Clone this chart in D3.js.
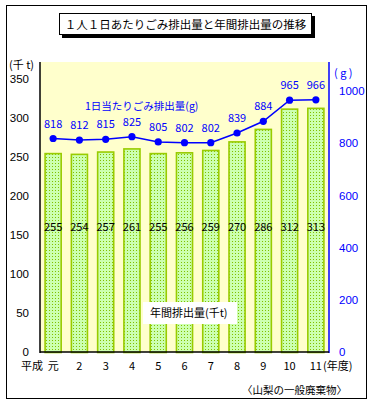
<!DOCTYPE html>
<html><head><meta charset="utf-8">
<script src="https://cdn.jsdelivr.net/npm/d3@7"></script>
<style>body{margin:0;background:#fff;} svg{display:block;font-family:"Noto Sans CJK JP","Noto Sans",sans-serif;}</style>
</head><body>
<svg id="c" width="375" height="406"></svg>
<script>
const years = ["元","2","3","4","5","6","7","8","9","10","11"];
const annual = [255,254,257,261,255,256,259,270,286,312,313];
const perCapita = [818,812,815,825,805,802,802,839,884,965,966];
const leftTicks = [0,50,100,150,200,250,300,350];
const rightTicks = [0,200,400,600,800,1000];

const svg = d3.select("#c");
const L = 40, R = 329, B = 352, T = 62;

// outer frame
svg.append("rect").attr("x",6.5).attr("y",5.5).attr("width",360).attr("height",393)
  .attr("fill","#fff").attr("stroke","#000").attr("stroke-width",1);

// pattern
const defs = svg.append("defs");
const pat = defs.append("pattern").attr("id","dots").attr("patternUnits","userSpaceOnUse")
  .attr("width",3).attr("height",3);
pat.append("rect").attr("width",3).attr("height",3).attr("fill","#CCFFB0");
pat.append("rect").attr("x",1).attr("y",1).attr("width",1).attr("height",1).attr("fill","#80C000");

// plot bg
svg.append("rect").attr("x",L).attr("y",T).attr("width",R-L).attr("height",B-T).attr("fill","#FFFFCC");

const x = d3.scaleBand().domain(years).range([L,R]).paddingInner(0.35).paddingOuter(0.175);
const yL = d3.scaleLinear().domain([0,350]).range([B,79]);
const yR = d3.scaleLinear().domain([0,1000]).range([B,91]);

// bars
svg.append("g").selectAll("rect").data(annual).join("rect")
  .attr("x",(d,i)=>x(years[i])+0.5).attr("y",d=>yL(d)+0.5)
  .attr("width",x.bandwidth()-1).attr("height",d=>B-yL(d))
  .attr("fill","url(#dots)").attr("stroke","#99CC00").attr("stroke-width",1.6);

// bar labels
svg.append("g").selectAll("text").data(annual).join("text")
  .attr("x",(d,i)=>x(years[i])+x.bandwidth()/2).attr("y",231)
  .attr("text-anchor","middle").attr("font-size",11).attr("fill","#000").text(d=>d);

// axes
const axL = svg.append("g").attr("transform",`translate(${L},0)`)
  .call(d3.axisLeft(yL).tickValues(leftTicks).tickFormat(d3.format("d")).tickSize(0).tickPadding(11));
axL.select(".domain").remove();
axL.selectAll("text").attr("font-size",11.5).attr("fill","#000").attr("font-family","inherit");
const axR = svg.append("g").attr("transform",`translate(${R},0)`)
  .call(d3.axisRight(yR).tickValues(rightTicks).tickFormat(d3.format("d")).tickSize(0).tickPadding(10));
axR.select(".domain").remove();
axR.selectAll("text").attr("font-size",11.5).attr("fill","#0000FF").attr("font-family","inherit");

svg.append("line").attr("x1",L).attr("x2",L).attr("y1",T).attr("y2",B+1).attr("stroke","#000").attr("stroke-width",1.5);
svg.append("line").attr("x1",R).attr("x2",R).attr("y1",T).attr("y2",B+1).attr("stroke","#0000FF").attr("stroke-width",1.5);
svg.append("line").attr("x1",L).attr("x2",R).attr("y1",B).attr("y2",B).attr("stroke","#000").attr("stroke-width",1.5);

// line
const line = d3.line().x((d,i)=>x(years[i])+x.bandwidth()/2).y(d=>yR(d));
svg.append("path").datum(perCapita).attr("d",line).attr("fill","none").attr("stroke","#0000FF").attr("stroke-width",1.5);
svg.append("g").selectAll("circle").data(perCapita).join("circle")
  .attr("cx",(d,i)=>x(years[i])+x.bandwidth()/2).attr("cy",d=>yR(d)).attr("r",3.6).attr("fill","#0000FF");
svg.append("g").selectAll("text").data(perCapita).join("text")
  .attr("x",(d,i)=>x(years[i])+x.bandwidth()/2).attr("y",d=>yR(d)-11)
  .attr("text-anchor","middle").attr("font-size",11).attr("fill","#0000FF").text(d=>d);

// x labels
svg.append("g").selectAll("text").data(years).join("text")
  .attr("x",d=>x(d)+x.bandwidth()/2).attr("y",370)
  .attr("text-anchor","middle").attr("font-size",11).attr("fill","#000").text(d=>d);
svg.append("text").attr("x",43).attr("y",370).attr("text-anchor","end").attr("font-size",11).text("平成");
svg.append("text").attr("x",323).attr("y",370).attr("font-size",11).text("(年度)");

// axis titles
svg.append("text").attr("x",9).attr("y",69).attr("font-size",11).text("(千 t)");
svg.append("text").attr("x",334).attr("y",77).attr("font-size",11).attr("fill","#0000FF").text("( g )");

// series labels
svg.append("text").attr("x",85).attr("y",110).attr("font-size",10.5).attr("fill","#0000FF").text("1日当たりごみ排出量(g)");
svg.append("rect").attr("x",143).attr("y",302).attr("width",94).attr("height",22).attr("fill","#fff");
svg.append("text").attr("x",150).attr("y",317).attr("font-size",11).attr("fill","#000").text("年間排出量(千t)");

// title
svg.append("rect").attr("x",62).attr("y",16).attr("width",253).attr("height",22).attr("fill","#000");
svg.append("rect").attr("x",59.5).attr("y",13.5).attr("width",252).attr("height",21).attr("fill","#fff").attr("stroke","#000");
svg.append("text").attr("x",185.5).attr("y",28.5).attr("text-anchor","middle").attr("font-size",11.5).text("１人１日あたりごみ排出量と年間排出量の推移");

// source
svg.append("text").attr("x",242).attr("y",394).attr("font-size",10.5).text("〈山梨の一般廃棄物〉");
</script>
</body></html>
